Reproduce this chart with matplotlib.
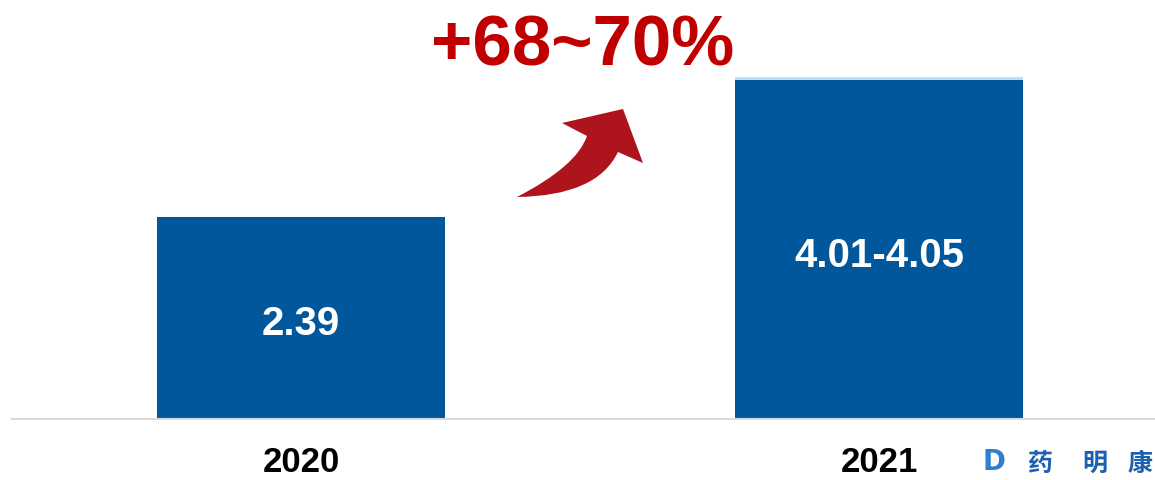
import matplotlib.pyplot as plt
from matplotlib.path import Path
import matplotlib.patches as mpatches

years = ['2020', '2021']
low = [2.39, 4.01]
high = [2.39, 4.05]
bar_labels = ['2.39', '4.01-4.05']
growth_text = '+68~70%'

BLUE = '#00579B'
LIGHT = '#BBDEFB'
RED = '#C00000'
ARROW = '#AD141C'

W, H = 1155, 481
fig = plt.figure(figsize=(W / 100, H / 100), dpi=100)
ax = fig.add_axes([12 / W, (H - 420) / H, 1143 / W, 420 / H])

x = range(len(years))
ax.bar(x, low, width=0.498, color=BLUE, zorder=2)
ax.bar(x, [h - l for h, l in zip(high, low)], bottom=low, width=0.498,
       color=LIGHT, zorder=2)

for i, (lab, v) in enumerate(zip(bar_labels, low)):
    ax.text(i, v / 2 - 0.06, lab, ha='center', va='center', color='white',
            fontsize=29, fontweight='bold', family='Liberation Sans')

ax.set_xlim(-0.5, 1.477)
ax.set_ylim(0, 4.97)
ax.set_xticks(list(x))
ax.set_xticklabels(years, fontsize=25, fontweight='bold', family='Liberation Sans')
ax.tick_params(axis='x', length=0, pad=19)
ax.set_yticks([])
for s in ['top', 'right', 'left']:
    ax.spines[s].set_visible(False)
ax.spines['bottom'].set_color('#D9D9D9')
ax.spines['bottom'].set_linewidth(1.5)

# growth annotation
fig.text(583 / W, 1 - 48 / H, growth_text, ha='center', va='center', color=RED,
         fontsize=51, fontweight='bold', family='Liberation Sans')

# curved arrow drawn in pixel coordinates (y measured from top)
def px(p):
    return (p[0] / W, 1 - p[1] / H)

verts = [(517, 198), (577, 167), (587, 137), (562, 124), (623, 110),
         (643, 164), (618, 153), (597, 197), (517, 198), (517, 198)]
codes = [Path.MOVETO, Path.CURVE3, Path.CURVE3, Path.LINETO, Path.LINETO,
         Path.LINETO, Path.LINETO, Path.CURVE3, Path.CURVE3, Path.CLOSEPOLY]
arrow = mpatches.PathPatch(Path([px(v) for v in verts], codes),
                           transform=fig.transFigure, facecolor=ARROW,
                           edgecolor='none')
fig.patches.append(arrow)

# company mark
fig.text(994 / W, 1 - 462 / H, 'D', ha='center', va='center', color='#2F7FD0',
         fontsize=20, fontweight='bold', family='DejaVu Sans')
for cx, ch in zip([1040, 1095, 1140], '药明康'):
    fig.text(cx / W, 1 - 464 / H, ch, ha='center', va='center',
             color='#1F5FB0', fontsize=18, fontweight='bold',
             family=['Noto Sans CJK SC', 'DejaVu Sans'])

fig.savefig('out.png', dpi=100, facecolor='white')
